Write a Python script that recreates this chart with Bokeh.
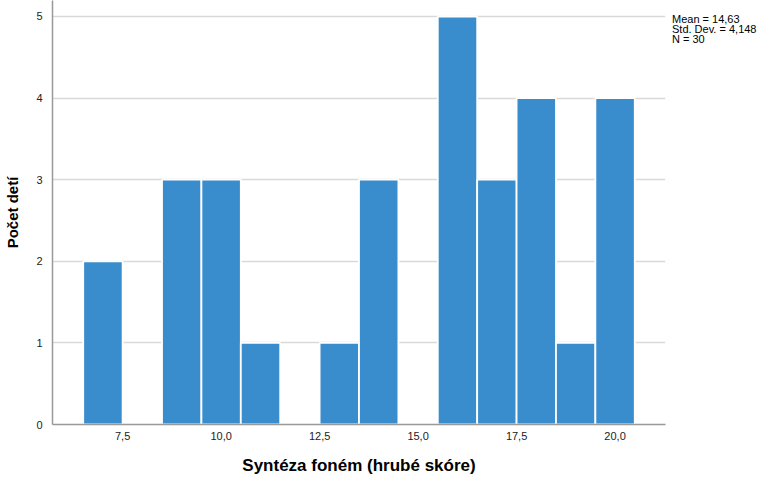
import numpy as np
from bokeh.plotting import figure
from bokeh.models import Range1d, FixedTicker, ColumnDataSource, Div
from bokeh.layouts import row
from bokeh.embed import file_html
from bokeh.resources import INLINE

# Data: score bins (centre) and counts
scores = [7, 8, 9, 10, 11, 12, 13, 14, 15, 16, 17, 18, 19, 20]
counts = [2, 0, 3, 3, 1, 0, 1, 3, 0, 5, 3, 4, 1, 4]
x_ticks = [7.5, 10.0, 12.5, 15.0, 17.5, 20.0]
y_ticks = [0, 1, 2, 3, 4, 5]
x_title = "Syntéza foném (hrubé skóre)"
y_title = "Počet detí"

vals = np.repeat(scores, counts)
mean = vals.mean()
sd = vals.std(ddof=1)
n = len(vals)


def cz(v, d):
    return ("%.*f" % (d, v)).replace(".", ",")


stats = [
    "Mean = " + cz(mean, 2),
    "Std. Dev. = " + cz(sd, 3),
    "N = %d" % n,
]

BAR = "#3A8DCD"
FONT = "Liberation Sans"

p = figure(width=672, height=478, output_backend="svg", toolbar_location=None,
           x_range=Range1d(5.72, 21.28), y_range=Range1d(0, 5.196),
           min_border_left=52, min_border_right=7, min_border_top=0,
           min_border_bottom=54)
p.outline_line_color = None
p.background_fill_color = "white"
p.border_fill_color = "white"

src = ColumnDataSource(dict(x=scores, top=counts))
p.vbar(x="x", top="top", bottom=0, width=1.0, source=src,
       fill_color=BAR, line_color="white", line_width=1.8)

p.xgrid.grid_line_color = None
p.ygrid.grid_line_color = "#d9d9d9"
p.ygrid.grid_line_width = 1.5
p.ygrid.level = "underlay"

p.xaxis.ticker = FixedTicker(ticks=x_ticks)
p.xaxis.major_label_overrides = {t: cz(t, 1) for t in x_ticks}
p.yaxis.ticker = FixedTicker(ticks=y_ticks)

for ax in (p.xaxis, p.yaxis):
    ax.major_tick_line_color = None
    ax.minor_tick_line_color = None
    ax.axis_line_color = "#999999"
    ax.axis_line_width = 1.5
    ax.major_label_text_font = FONT
    ax.major_label_text_font_size = "11px"
    ax.major_label_text_color = "#222222"
    ax.axis_label_text_font = FONT
    ax.axis_label_text_font_style = "bold"
    ax.axis_label_text_color = "#000000"

p.xaxis.axis_label = x_title
p.xaxis.axis_label_text_font_size = "17px"
p.xaxis.axis_label_text_line_height = 0.8
p.xaxis.major_label_standoff = 1
p.xaxis.axis_label_standoff = 13
p.yaxis.axis_label = y_title
p.yaxis.axis_label_text_font_size = "15px"
p.yaxis.major_label_standoff = 4
p.yaxis.axis_label_standoff = 12

stats_div = Div(text="<br>".join(stats), width=91, height=60, margin=(0, 0, 0, 0),
                styles={"font-family": FONT, "font-size": "11px", "line-height": "10px",
                        "color": "#000000", "padding-top": "14px",
                        "white-space": "nowrap"})

layout = row(p, stats_div, spacing=0)
open("out.html", "w").write(file_html(layout, INLINE))
